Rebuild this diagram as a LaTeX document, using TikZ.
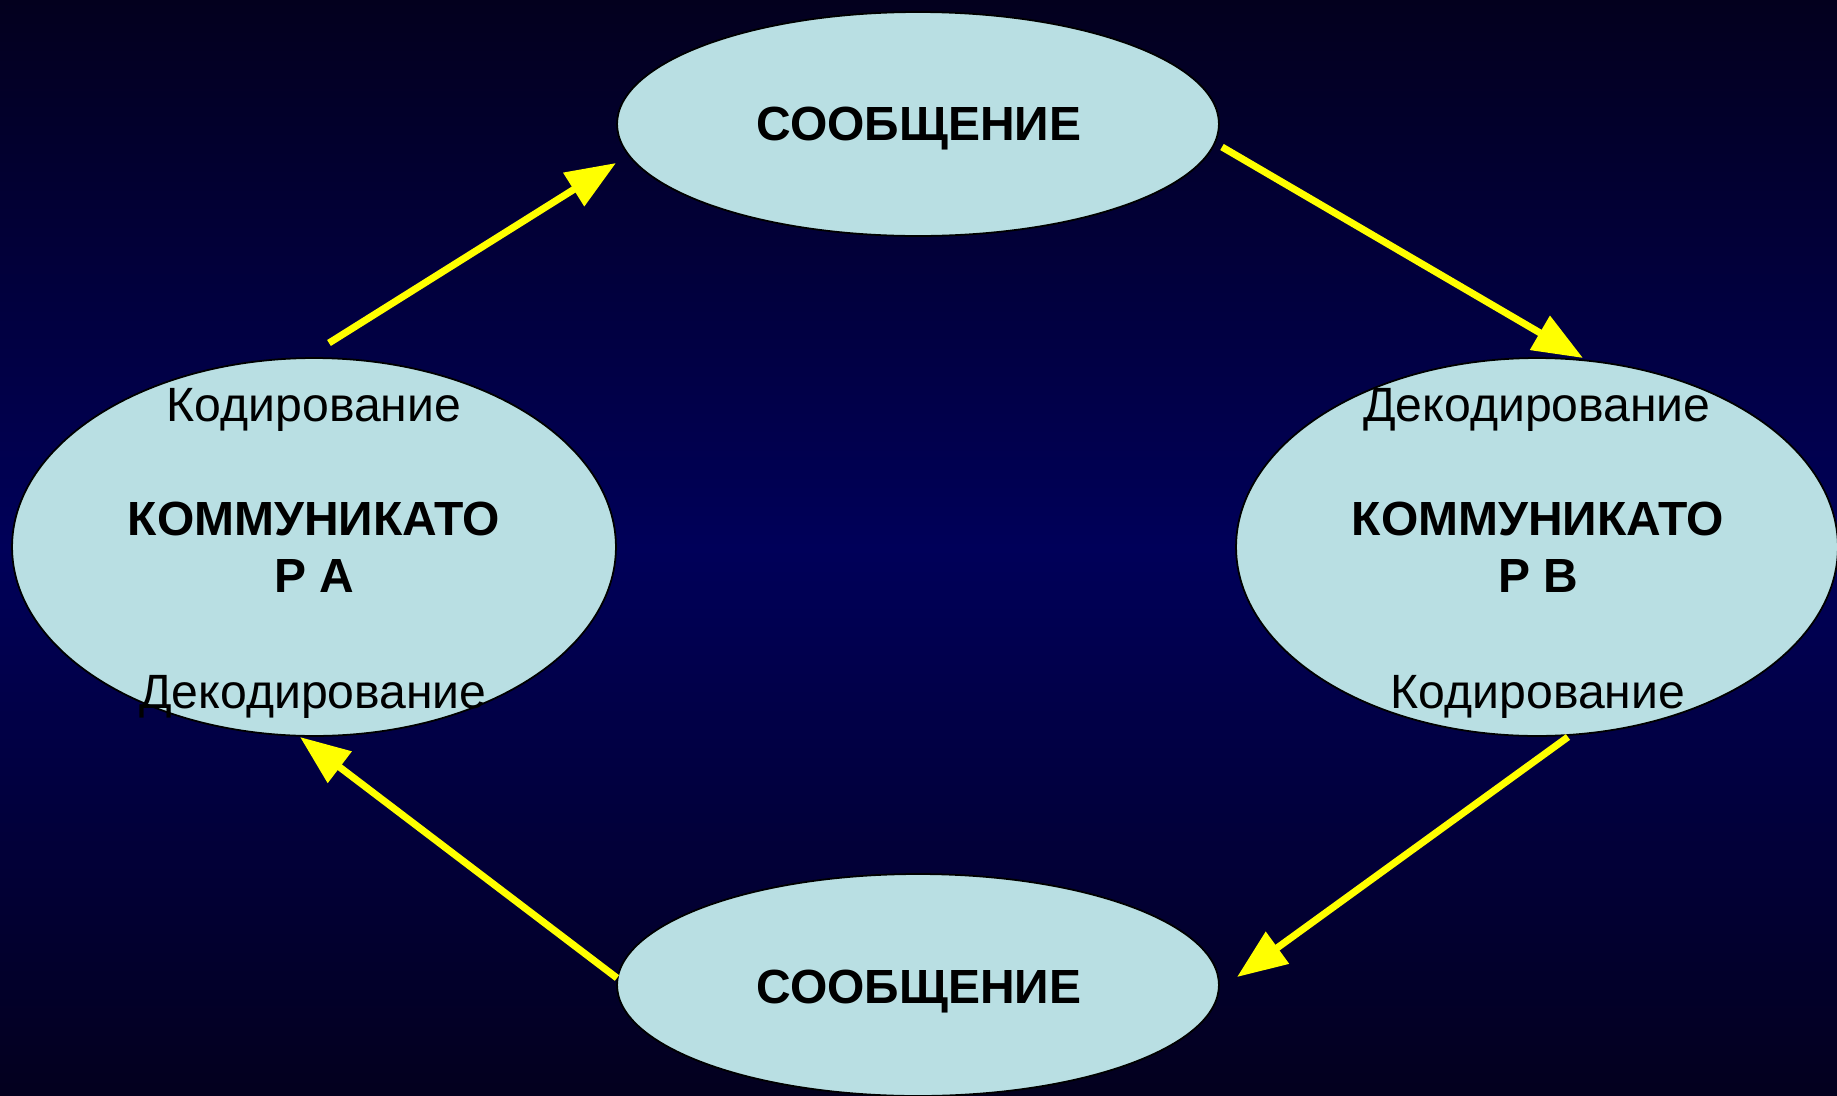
\documentclass[tikz,border=0pt]{standalone}
\usepackage{fontspec}
\setmainfont{Liberation Sans}
\usetikzlibrary{shapes.geometric,arrows.meta}
\definecolor{bgedge}{HTML}{03001E}
\definecolor{bgmid}{HTML}{000059}
\definecolor{bubblefill}{HTML}{B9DFE3}
\definecolor{arrowyellow}{HTML}{FFFF00}

\begin{document}
\begin{tikzpicture}[x=0.02cm,y=-0.02cm,
  bubble/.style={ellipse,draw=black,line width=1pt,fill=bubblefill,inner sep=0pt},
  caption/.style={font=\fontsize{27.4}{33}\selectfont,anchor=base,inner sep=0pt},
  title/.style={font=\fontsize{27.3}{32.3}\selectfont\bfseries,align=center,inner sep=0pt},
  flow/.style={draw=arrowyellow,line width=4pt,-{Triangle[length=1cm,width=0.76cm]}}]

% page and background
\useasboundingbox (0,0) rectangle (1837,1096);
\shade[top color=bgedge,bottom color=bgedge,middle color=bgmid] (0,0) rectangle (1837,1096);

% the four ellipses
\node[bubble,minimum width=12.04cm,minimum height=4.48cm] (msgtop) at (918,124) {};
\node[bubble,minimum width=12.04cm,minimum height=4.44cm] (msgbot) at (918,985) {};
\node[bubble,minimum width=12.08cm,minimum height=7.56cm] (commA) at (314,547) {};
\node[bubble,minimum width=12.04cm,minimum height=7.56cm] (commB) at (1537,547) {};

% labels
\node[title,anchor=base] (msgtoptext) at (919,140) {СООБЩЕНИЕ};
\node[title,anchor=base] (msgbottext) at (919,1003) {СООБЩЕНИЕ};
\node[title] (commAtext) at (314,547) {КОММУНИКАТО\\Р А};
\node[title] (commBtext) at (1538,547) {КОММУНИКАТО\\Р В};
\node[caption] (encA) at (314,421) {Кодирование};
\node[caption] (decA) at (313,708) {Декодирование};
\node[caption] (decB) at (1537,421) {Декодирование};
\node[caption] (encB) at (1538,708) {Кодирование};

% arrow end points
\coordinate (a1s) at (329,343);
\coordinate (a1e) at (616,163);
\coordinate (a2s) at (1222,147);
\coordinate (a2e) at (1583,358);
\coordinate (a3s) at (1568,737);
\coordinate (a3e) at (1237,977);
\coordinate (a4s) at (617,978);
\coordinate (a4e) at (300,737);

% message cycle
\draw[flow] (a1s) -- (a1e);
\draw[flow] (a2s) -- (a2e);
\draw[flow] (a3s) -- (a3e);
\draw[flow] (a4s) -- (a4e);
\end{tikzpicture}
\end{document}
